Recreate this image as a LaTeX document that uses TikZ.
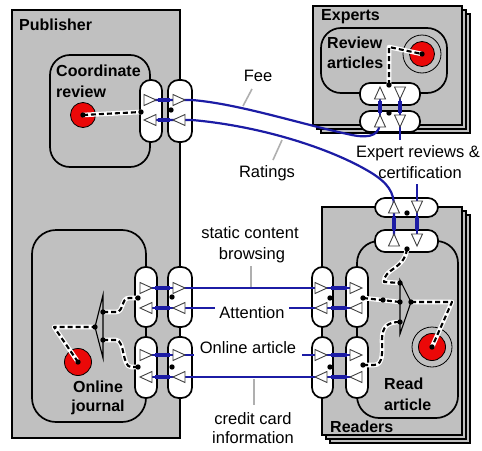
\documentclass[tikz,border=0pt]{standalone}
\usepackage{fontspec}
\setmainfont{Liberation Sans}
\definecolor{panel}{RGB}{192,192,192}
\definecolor{flowc}{RGB}{28,28,165}
\definecolor{leadc}{RGB}{175,175,175}
\definecolor{dotred}{RGB}{235,8,8}
\newcommand\flowR[2]{\filldraw[tri] (#1-6,#2-5.5) -- (#1+6,#2) -- (#1-6,#2+5.5) -- cycle;}
\newcommand\flowL[2]{\filldraw[tri] (#1+6,#2-5.5) -- (#1-6,#2) -- (#1+6,#2+5.5) -- cycle;}
\newcommand\flowU[2]{\filldraw[tri] (#1-5.5,#2+6) -- (#1,#2-6) -- (#1+5.5,#2+6) -- cycle;}
\newcommand\flowD[2]{\filldraw[tri] (#1-5.5,#2-6) -- (#1,#2+6) -- (#1+5.5,#2-6) -- cycle;}
\begin{document}
\begin{tikzpicture}[x=1pt,y=-1pt,
  box/.style={draw=black,line width=1.7pt,fill=panel},
  proc/.style={draw=black,line width=1.7pt,fill=panel,rounded corners=20pt},
  vpill/.style={draw=black,line width=1.7pt,fill=white,rounded corners=10.5pt},
  hpill/.style={draw=black,line width=1.7pt,fill=white,rounded corners=10pt},
  flowline/.style={draw=flowc,line width=2.2pt},
  thickseg/.style={draw=flowc,line width=4.6pt},
  tri/.style={draw=black!75,fill=white,line width=0.9pt,line join=miter},
  wire/.style={draw=white,line width=4.6pt,line join=round,
    postaction={draw=black,line width=2.1pt,dash pattern=on 5pt off 3pt}},
  fork/.style={draw=black,line width=1.1pt,line join=miter},
  leader/.style={draw=leadc,line width=1.6pt},
  title/.style={font=\fontsize{16}{19}\selectfont\bfseries,inner sep=0pt},
  lbl/.style={font=\fontsize{16.5}{20}\selectfont,inner sep=0pt},
  pt/.style={fill=black},
]
\useasboundingbox (0,0) rectangle (482,450);
\fill[white] (0,0) rectangle (482,450);

% ---- organisations
\draw[box] (321,14) rectangle (470,133);
\draw[box] (317,10) rectangle (466,129);
\draw[box] (313,6) rectangle (462,125);
\draw[box] (330,215) rectangle (470,443);
\draw[box] (326,211) rectangle (466,439);
\draw[box] (322,207) rectangle (462,435);
\draw[box] (12,10) rectangle (180,438);
\node[title,anchor=base west] (pubT) at (19,30) {Publisher};
\node[title,anchor=base west] (expT) at (321,20) {Experts};
\node[title,anchor=base west] (rdT) at (330,432) {Readers};

% ---- processes
\draw[proc] (50,55) rectangle (150,167);
\draw[proc] (321,28) rectangle (447,93);
\draw[proc,rounded corners=24pt] (32,230) rectangle (146,422);
\draw[proc,rounded corners=22pt] (357,241) rectangle (458,418);
\node[title,anchor=base west] (crA) at (56,76) {Coordinate};
\node[title,anchor=base west] (crB) at (56,97) {review};
\node[title,anchor=base west] (raA) at (327,48) {Review};
\node[title,anchor=base west] (raB) at (327,68) {articles};
\node[title,anchor=base] (ojA) at (98,392) {Online};
\node[title,anchor=base] (ojB) at (98,411) {journal};
\node[title,anchor=base west] (rrA) at (384,389) {Read};
\node[title,anchor=base west] (rrB) at (384,410) {article};

% ---- state dots
\filldraw[fill=panel,draw=black,line width=0.8pt] (422,54) circle (19);
\filldraw[fill=panel,draw=black,line width=0.8pt] (432,347) circle (20);
\filldraw[fill=dotred,draw=black,line width=0.8pt] (83,115) circle (12.5);
\filldraw[fill=dotred,draw=black,line width=0.8pt] (78,362) circle (13.5);
\filldraw[fill=dotred,draw=black,line width=0.8pt] (422,54) circle (12.5);
\filldraw[fill=dotred,draw=black,line width=0.8pt] (432,347) circle (13.5);

% ---- ports
\draw[vpill] (140,80) rectangle (162,142);
\draw[vpill] (168,80) rectangle (192,142);
\draw[hpill] (360,83) rectangle (420,105);
\draw[hpill] (360,111) rectangle (420,132);
\draw[hpill] (375,198) rectangle (438,217);
\draw[hpill] (375,230) rectangle (438,252);
\draw[vpill] (135,267) rectangle (157,327);
\draw[vpill] (135,337) rectangle (157,398);
\draw[vpill] (168,267) rectangle (192,327);
\draw[vpill] (168,337) rectangle (192,398);
\draw[vpill] (312,267) rectangle (333,327);
\draw[vpill] (312,337) rectangle (333,398);
\draw[vpill] (346,267) rectangle (368,327);
\draw[vpill] (346,337) rectangle (368,398);

% ---- internal dashed wires
\coordinate (crDot) at (83,115);
\coordinate (crPort) at (141,112);
\draw[wire] (crDot) -- (crPort);
\coordinate (raDot) at (422,54);
\coordinate (raPort) at (389,85);
\draw[wire] (raPort) -- (389,47) -- (raDot);
\coordinate (ojDot) at (78,362);
\coordinate (ojApex) at (95,327);
\coordinate (ojIn1) at (103,312);
\coordinate (ojIn2) at (103,340);
\coordinate (ojP1) at (138,298);
\coordinate (ojP2) at (138,367);
\draw[wire] (ojDot) -- (54,327) -- (ojApex);
\draw[wire] (ojIn1) -- (116,312) .. controls (124,312) and (121,298) .. (129,298) -- (ojP1);
\draw[wire] (ojIn2) -- (116,340) .. controls (125,340) and (122,367) .. (131,367) -- (ojP2);
\coordinate (rrDot) at (432,347);
\coordinate (rrApex) at (411,302);
\coordinate (rrIn1) at (400,283);
\coordinate (rrIn2) at (400,302);
\coordinate (rrIn3) at (400,322);
\coordinate (rrTop) at (407,249);
\coordinate (rrP1) at (363,298);
\coordinate (rrP2) at (363,365);
\draw[wire] (rrTop) .. controls (404,270) and (384,268) .. (384,282) -- (rrIn1);
\draw[wire] (rrP1) -- (rrIn2);
\draw[wire] (rrP2) -- (374,365) .. controls (384,365) and (382,350) .. (382,340) .. controls (382,326) and (388,322) .. (rrIn3);
\draw[wire] (rrApex) -- (452,302) -- (rrDot);
\draw[fork] (103,295) -- (103,358) -- (ojApex) -- cycle;
\draw[fork] (400,280) -- (400,334) -- (rrApex) -- cycle;

% ---- flows
\coordinate (fee0) at (150,100);
\coordinate (fee1) at (380,121);
\draw[flowline] (fee0) -- (192,100) .. controls (240,104) and (300,124) .. (352,135) .. controls (372,139) and (380,134) .. (fee1);
\draw[flowline] (380,93) -- (fee1);
\coordinate (rat0) at (150,120);
\coordinate (rat1) at (394,240);
\draw[flowline] (rat0) -- (192,120) .. controls (260,126) and (330,148) .. (370,172) .. controls (388,183) and (394,192) .. (394,207) -- (rat1);
\node[lbl,anchor=base] (expA) at (418,157) {Expert reviews \&};
\node[lbl,anchor=base] (expB) at (420,178) {certification};
\draw[flowline] (400,93) -- (400,140);
\draw[flowline] (417,184) -- (417,240);
\draw[flowline] (146,288) -- (356,288);
\draw[flowline] (146,308) -- (356,308);
\draw[flowline] (146,355) -- (356,355);
\draw[flowline] (146,377) -- (356,377);
\node[lbl,anchor=base,fill=white,inner xsep=4pt,inner ysep=2pt] (att) at (252,318) {Attention};
\node[lbl,anchor=base,fill=white,inner xsep=6pt,inner ysep=3pt] (oa) at (248,353) {Online article};

% thick middle parts
\draw[thickseg] (158,100) -- (170,100);
\draw[thickseg] (158,120) -- (170,120);
\draw[thickseg] (380,101) -- (380,113);
\draw[thickseg] (400,101) -- (400,113);
\draw[thickseg] (394,217) -- (394,230);
\draw[thickseg] (417,217) -- (417,230);
\foreach \yy in {288,308,355,377} {
  \draw[thickseg] (155,\yy) -- (170,\yy);
  \draw[thickseg] (331,\yy) -- (347,\yy);
}

% triangles
\flowR{150}{100} \flowR{179}{100}
\flowL{150}{120} \flowL{179}{120}
\flowU{380}{93} \flowU{380}{121}
\flowD{400}{93} \flowD{400}{121}
\flowU{394}{207} \flowU{394}{240}
\flowD{417}{207} \flowD{417}{240}
\foreach \yy in {288,355} {\flowR{146}{\yy} \flowR{179}{\yy} \flowR{321}{\yy} \flowR{356}{\yy}}
\foreach \yy in {308,377} {\flowL{146}{\yy} \flowL{179}{\yy} \flowL{321}{\yy} \flowL{356}{\yy}}

% junction dots
\foreach \p in {(141,112),(171,110),(389,85),(389,113),(407,213),(407,249),
  (138,298),(138,367),(172,297),(172,367),(330,298),(330,367),(363,298),(363,365),
  (103,312),(103,340),(95,327),(400,283),(400,302),(400,322),(411,302),(383,300),
  (83,115),(78,362),(422,54),(432,347)}
  \fill[pt] \p circle (2.7);

% ---- labels
\node[lbl,anchor=base] (fee) at (258,81) {Fee};
\draw[leader] (252,89) -- (243,106);
\node[lbl,anchor=base] (rat) at (267,177) {Ratings};
\draw[leader] (282,140) -- (273,160);
\node[lbl,anchor=base] (scA) at (250,238) {static content};
\node[lbl,anchor=base] (scB) at (252,259) {browsing};
\draw[leader] (251,266) -- (251,287);
\node[lbl,anchor=base] (ccA) at (253,424) {credit card};
\node[lbl,anchor=base] (ccB) at (253,443) {information};
\draw[leader] (254,379) -- (254,405);
\end{tikzpicture}
\end{document}
